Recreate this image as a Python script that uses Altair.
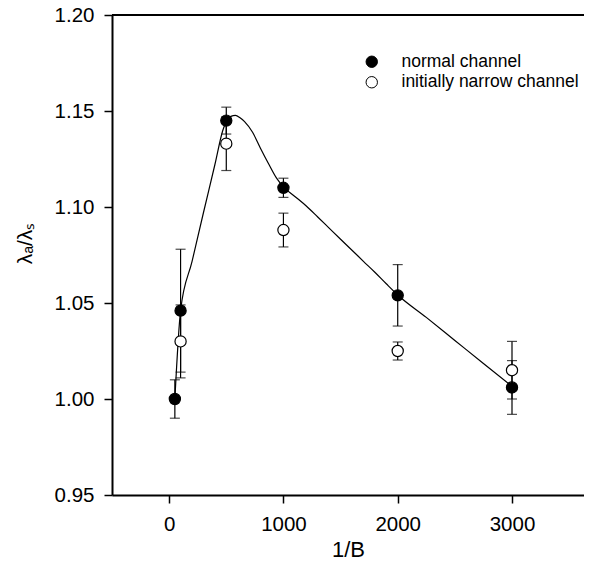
import altair as alt
import pandas as pd

# --- data ---
normal_x = [50, 100, 500, 1000, 2000, 3000]
normal_y = [1.000, 1.046, 1.145, 1.110, 1.054, 1.006]
normal_err = [0.010, 0.032, 0.007, 0.005, 0.016, 0.014]

narrow_x = [100, 500, 1000, 2000, 3000]
narrow_y = [1.030, 1.133, 1.088, 1.025, 1.015]
narrow_err = [0.019, 0.014, 0.0088, 0.0047, 0.015]

curve_x = [50, 100, 200, 300, 400, 470, 500, 540, 580, 620, 660, 730, 800,
           870, 940, 1000, 1100, 1200, 1300, 1400, 1500, 1600, 1700, 1800,
           1900, 2000, 2250, 2500, 2750, 3000]
curve_y = [1.000, 1.046, 1.0715, 1.097, 1.122, 1.140, 1.1445, 1.1472, 1.1477,
           1.1465, 1.1445, 1.1389, 1.1305, 1.1225, 1.1150, 1.1105, 1.1055,
           1.1005, 1.0948, 1.0890, 1.0832, 1.0775, 1.0717, 1.0660, 1.0600,
           1.0542, 1.0425, 1.0305, 1.0185, 1.0066]

series_names = ["normal channel", "initially narrow channel"]
x_ticks = [0, 1000, 2000, 3000]
y_ticks = [0.95, 1.00, 1.05, 1.10, 1.15, 1.20]

pts = pd.DataFrame({
    "x": normal_x + narrow_x,
    "y": normal_y + narrow_y,
    "lo": [v - e for v, e in zip(normal_y, normal_err)] + [v - e for v, e in zip(narrow_y, narrow_err)],
    "hi": [v + e for v, e in zip(normal_y, normal_err)] + [v + e for v, e in zip(narrow_y, narrow_err)],
    "series": [series_names[0]] * len(normal_x) + [series_names[1]] * len(narrow_x),
})
curve = pd.DataFrame({"x": curve_x, "y": curve_y})

FONT = "Liberation Sans"
xscale = alt.Scale(domain=[-500, 3630], nice=False, zero=False)
yscale = alt.Scale(domain=[0.95, 1.20], nice=False, zero=False)

xaxis = alt.Axis(values=x_ticks, format="d", title="1/B", grid=False,
                 domainWidth=2, domainColor="black", tickColor="black", tickWidth=1.5,
                 tickSize=8, labelFontSize=20.5, labelFont=FONT, labelColor="black",
                 labelPadding=11, titleFont=FONT, titleFontSize=22, titleFontWeight="normal",
                 titleColor="black", titleY=54, titleBaseline="middle")
yaxis = alt.Axis(values=y_ticks, format=".2f", title="λₐ/λₛ", grid=False,
                 domainWidth=2, domainColor="black", tickColor="black", tickWidth=1.5,
                 tickSize=8, labelFontSize=20.5, labelFont=FONT, labelColor="black",
                 labelPadding=10, titleFont=FONT, titleFontSize=21, titleFontWeight="normal",
                 titleColor="black", titleX=-87, titleY=228, titleAngle=270,
                 titleAlign="center", titleBaseline="middle")

base = alt.Chart(pts)

rules = base.mark_rule(color="black", strokeWidth=1.2).encode(
    x=alt.X("x:Q", scale=xscale, axis=xaxis),
    y=alt.Y("lo:Q", scale=yscale, axis=yaxis),
    y2="hi:Q",
)
cap_lo = base.mark_tick(color="black", orient="horizontal", size=10, thickness=1.2).encode(
    x=alt.X("x:Q", scale=xscale), y=alt.Y("lo:Q", scale=yscale))
cap_hi = base.mark_tick(color="black", orient="horizontal", size=10, thickness=1.2).encode(
    x=alt.X("x:Q", scale=xscale), y=alt.Y("hi:Q", scale=yscale))

line = alt.Chart(curve).mark_line(color="black", strokeWidth=1.2, interpolate="monotone").encode(
    x=alt.X("x:Q", scale=xscale), y=alt.Y("y:Q", scale=yscale))

points = base.mark_point(shape="circle", filled=False, size=125, stroke="black",
                         strokeWidth=1.2, opacity=1).encode(
    x=alt.X("x:Q", scale=xscale),
    y=alt.Y("y:Q", scale=yscale),
    fill=alt.Fill("series:N",
                  scale=alt.Scale(domain=series_names, range=["black", "white"]),
                  sort=series_names,
                  legend=alt.Legend(title=None, orient="none", legendX=251, legendY=38,
                                    padding=0, symbolType="circle", symbolSize=130,
                                    symbolStrokeColor="black", symbolStrokeWidth=1,
                                    labelFont=FONT, labelFontSize=17.5, labelColor="black",
                                    labelOffset=21, labelLimit=0, rowPadding=1.5)),
    order=alt.Order("series:N", sort="ascending"),
)

top_line = alt.Chart(pts).mark_rule(color="black", strokeWidth=2).encode(
    y=alt.datum(1.20, scale=yscale))

chart = alt.layer(rules, cap_lo, cap_hi, line, points, top_line).properties(
    width=472, height=480,
    autosize=alt.AutoSizeParams(type="none"),
    padding={"left": 104, "top": 7, "right": 0, "bottom": 66},
    background="white",
).configure_view(stroke=None)

chart.save("out.html", embed_options={"renderer": "svg", "actions": False})
